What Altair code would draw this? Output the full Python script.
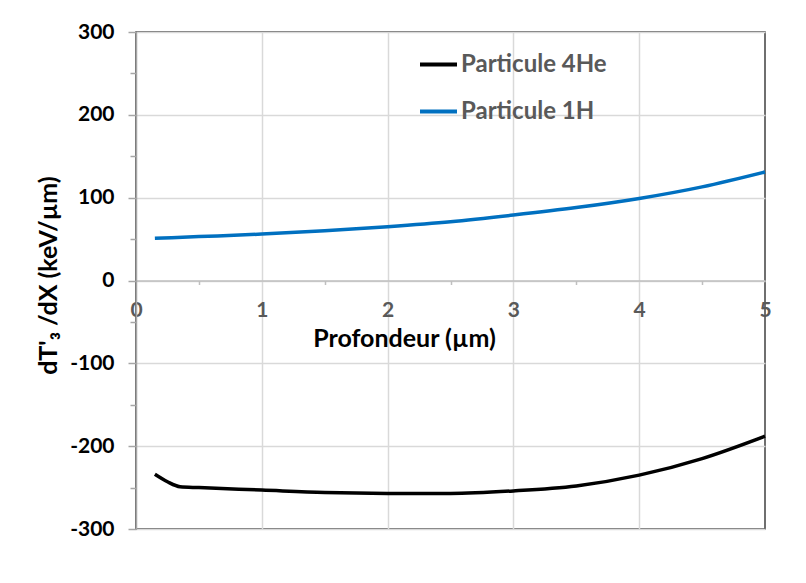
import altair as alt
import pandas as pd

# --- data ---
series = ["Particule 4He", "Particule 1H"]
colors = ["#000000", "#0070C0"]

x_he = [0.15, 0.25, 0.35, 0.5, 1.0, 1.5, 2.0, 2.5, 3.0, 3.5, 4.0, 4.5, 5.0]
y_he = [-234, -243, -249, -250, -253, -256, -257, -257, -254, -248, -235, -215, -188]

x_h = [0.15, 0.5, 1.0, 1.5, 2.0, 2.5, 3.0, 3.5, 4.0, 4.5, 5.0]
y_h = [51, 53, 56, 60, 65, 71, 79, 88, 99, 113, 131]

x_ticks = [0, 1, 2, 3, 4, 5]
x_grid = [1, 2, 3, 4]
x_minor = [0.5, 1.5, 2.5, 3.5, 4.5]
y_ticks = [-300, -200, -100, 0, 100, 200, 300]
y_minor = [-250, -150, -50, 50, 150, 250]

df = pd.concat([
    pd.DataFrame({"x": x_he, "y": y_he, "series": series[0]}),
    pd.DataFrame({"x": x_h, "y": y_h, "series": series[1]}),
], ignore_index=True)

W, H = 629, 497
FONT = "Lato"
xs = alt.Scale(domain=[0, 5], nice=False, zero=False)
ys = alt.Scale(domain=[-300, 300], nice=False, zero=False)

base = alt.Chart(df)

# grid layer
grid = base.mark_line(opacity=0).encode(
    x=alt.X("x:Q", scale=xs, axis=alt.Axis(values=x_grid, grid=True, gridColor="#D9D9D9", gridWidth=1.5,
                                           labels=False, ticks=False, domain=False, title=None)),
    y=alt.Y("y:Q", scale=ys, axis=alt.Axis(values=y_ticks, grid=True, gridColor="#D9D9D9", gridWidth=1.5,
                                           labels=False, ticks=False, domain=False, title=None)),
    detail="series:N",
)

# minor ticks layer
minor = base.mark_line(opacity=0).encode(
    x=alt.X("x:Q", scale=xs, axis=alt.Axis(values=x_minor, offset=-H / 2, orient="bottom", grid=False,
                                           labels=False, ticks=True, tickSize=4, tickColor="#BFBFBF",
                                           tickWidth=1.5, domain=False, title=None)),
    y=alt.Y("y:Q", scale=ys, axis=alt.Axis(values=y_minor, orient="left", grid=False, labels=False,
                                           ticks=True, tickSize=6, tickColor="#A6A6A6", tickWidth=1.5,
                                           domain=False, title=None)),
    detail="series:N",
)

lines = base.mark_line(strokeWidth=3.5, interpolate="monotone").encode(
    x=alt.X("x:Q", scale=xs, axis=alt.Axis(
        values=x_ticks, offset=-H / 2, orient="bottom", grid=False, ticks=False,
        domainColor="#BFBFBF", domainWidth=1.5,
        labelFont=FONT, labelFontSize=21, labelFontWeight="bold", labelColor="#595959",
        labelPadding=19, labelFlush=False, labelOverlap=False,
        title="Profondeur (µm)", titleFont=FONT, titleFontSize=25, titleFontWeight="bold",
        titleColor="#000000", titleX=268, titleY=58, titleBaseline="middle")),
    y=alt.Y("y:Q", scale=ys, axis=alt.Axis(
        values=y_ticks, orient="left", grid=False, tickSize=8, tickColor="#A6A6A6", tickWidth=1.5,
        domainColor="#A6A6A6", domainWidth=1.5,
        labelFont=FONT, labelFontSize=21, labelFontWeight="bold", labelColor="#000000",
        labelPadding=14, labelFlush=False, labelOverlap=False,
        labelExpr="datum.value + ''",
        title="dT'₃ /dX (keV/µm)", titleFont=FONT, titleFontSize=25, titleFontWeight="bold",
        titleColor="#000000", titleX=-88, titleY=243, titleAngle=270, titleBaseline="middle")),
    color=alt.Color("series:N", scale=alt.Scale(domain=series, range=colors), legend=alt.Legend(
        title=None, orient="none", legendX=282, legendY=12, direction="vertical",
        symbolType="stroke", symbolSize=1369, symbolStrokeWidth=4,
        labelFont=FONT, labelFontSize=24, labelFontWeight="bold", labelColor="#595959",
        labelOffset=2, rowPadding=14)),
)

chart = alt.layer(grid, minor, lines).resolve_axis(x="independent", y="independent").properties(
    width=W, height=H,
    autosize=alt.AutoSizeParams(type="none"),
    padding={"left": 128, "top": 24, "right": 33, "bottom": 46},
    background="white",
).configure_view(stroke="#404040", strokeWidth=1.5)

chart.save("out.html", embed_options={"renderer": "svg", "actions": False})
